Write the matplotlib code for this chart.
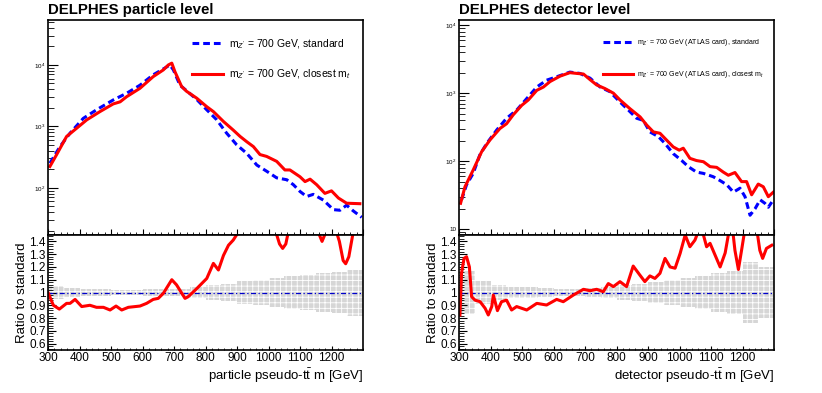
import numpy as np
import matplotlib
matplotlib.use('Agg')
import matplotlib.pyplot as plt
from matplotlib.ticker import MultipleLocator, LogLocator, NullFormatter, FuncFormatter

plt.rcParams['font.family'] = ['Liberation Sans', 'DejaVu Sans']
plt.rcParams['mathtext.fontset'] = 'custom'
plt.rcParams['mathtext.rm'] = 'Liberation Sans'
plt.rcParams['mathtext.it'] = 'Liberation Sans:italic'
plt.rcParams['hatch.linewidth'] = 0.6

# ---- particle level (left) ----
part_std_x = [306, 338, 370, 412, 454, 507, 550, 592, 634, 671, 687, 698, 719, 740, 772, 804, 835, 867, 899,
              931, 963, 994, 1026, 1058, 1079, 1100, 1121, 1142, 1174, 1206, 1227, 1248, 1269, 1296]
part_std_y = [251, 468, 776, 1350, 1860, 2690, 3470, 4680, 6920, 8910, 10000, 8320, 4680, 3800, 2750, 1860,
              1290, 776, 501, 363, 234, 186, 145, 135, 112, 87, 72, 78, 63, 44, 43, 52, 42, 33]
part_cl_x = [306, 327, 359, 391, 423, 465, 507, 529, 550, 592, 634, 666, 682, 693, 703, 724, 740, 772, 804,
             825, 857, 888, 910, 931, 952, 973, 994, 1026, 1052, 1068, 1100, 1116, 1132, 1153, 1179, 1200,
             1222, 1248, 1290]
part_cl_y = [222, 344, 684, 933, 1276, 1740, 2320, 2510, 3050, 4170, 6460, 8300, 10000, 10700, 7760, 4470,
             3720, 2880, 2090, 1740, 1200, 870, 684, 562, 468, 347, 324, 269, 195, 195, 151, 126, 138, 112,
             81, 89, 68, 56, 55]
part_ratio_x = [300, 317, 336, 359, 370, 386, 407, 433, 454, 476, 497, 516, 534, 555, 592, 613, 634, 650,
                666, 693, 708, 735, 745, 772, 804, 825, 841, 857, 873, 888, 901, 920, 950, 984, 1000, 1020,
                1035, 1045, 1055, 1065, 1090, 1130, 1160, 1170, 1180, 1200, 1225, 1237, 1245, 1255, 1268,
                1280, 1290]
part_ratio_y = [1.0, 0.90, 0.87, 0.915, 0.915, 0.946, 0.89, 0.90, 0.884, 0.884, 0.863, 0.894, 0.863, 0.884,
                0.894, 0.915, 0.946, 0.954, 0.993, 1.10, 1.06, 0.954, 0.967, 1.03, 1.11, 1.228, 1.176, 1.29,
                1.37, 1.41, 1.46, 1.55, 1.6, 1.46, 1.6, 1.5, 1.38, 1.345, 1.38, 1.5, 1.7, 1.6, 1.46, 1.40,
                1.46, 1.6, 1.4, 1.25, 1.225, 1.28, 1.46, 1.6, 1.7]
part_band = [0.05, 0.035, 0.028, 0.025, 0.022, 0.022, 0.025, 0.025, 0.03, 0.045, 0.055, 0.07, 0.09, 0.10,
             0.11, 0.13, 0.14, 0.15, 0.16, 0.18]

# ---- detector level (right) ----
det_std_x = [308, 324, 345, 366, 388, 420, 451, 483, 515, 547, 578, 610, 652, 684, 716, 748, 779, 811, 838,
             864, 885, 906, 933, 954, 980, 1007, 1028, 1054, 1076, 1107, 1128, 1150, 1171, 1192, 1208, 1224,
             1240, 1256, 1271, 1282, 1293]
det_std_y = [27, 45, 66, 123, 182, 288, 427, 562, 832, 1230, 1550, 1740, 2040, 1950, 1660, 1230, 1050, 741,
             562, 427, 398, 269, 229, 182, 129, 102, 83, 69, 66, 59, 52, 45, 35, 40, 30, 16, 20, 27, 24, 21, 25]
det_cl_x = [305, 319, 345, 372, 398, 430, 451, 472, 499, 520, 547, 568, 589, 621, 652, 674, 695, 716, 737,
            763, 790, 811, 843, 875, 896, 917, 938, 959, 980, 999, 1012, 1033, 1054, 1076, 1097, 1118, 1139,
            1155, 1176, 1197, 1213, 1229, 1250, 1266, 1282, 1298]
det_cl_y = [24, 42, 74, 138, 204, 302, 355, 479, 661, 794, 1100, 1230, 1480, 1780, 2000, 1950, 1910, 1580,
            1320, 1170, 1000, 794, 589, 447, 339, 269, 257, 204, 162, 145, 155, 110, 102, 98, 83, 81, 69, 62,
            68, 50, 50, 32, 46, 42, 30, 35]
det_ratio_x = [303, 308, 316, 324, 333, 340, 351, 367, 383, 393, 404, 409, 422, 435, 451, 467, 483, 515, 547,
               578, 610, 631, 663, 695, 716, 737, 758, 774, 790, 811, 832, 853, 874, 890, 906, 922, 938, 954,
               970, 986, 1002, 1018, 1033, 1049, 1060, 1076, 1086, 1097, 1129, 1145, 1155, 1166, 1176, 1187,
               1197, 1208, 1225, 1245, 1255, 1264, 1276, 1293]
det_ratio_y = [0.824, 1.15, 1.267, 1.28, 1.20, 0.967, 0.94, 0.928, 0.876, 0.824, 0.89, 0.98, 0.858, 0.928,
               0.94, 0.863, 0.89, 0.863, 0.915, 0.902, 0.946, 0.928, 0.98, 1.025, 1.014, 1.025, 1.006, 1.07,
               1.046, 1.085, 1.046, 1.207, 1.137, 1.085, 1.13, 1.11, 1.15, 1.267, 1.20, 1.19, 1.306, 1.45,
               1.358, 1.41, 1.48, 1.45, 1.358, 1.385, 1.20, 1.31, 1.45, 1.55, 1.33, 1.18, 1.33, 1.5, 1.7, 1.5,
               1.33, 1.267, 1.345, 1.37]
det_band = [0.17, 0.09, 0.06, 0.045, 0.04, 0.035, 0.03, 0.03, 0.035, 0.045, 0.055, 0.07, 0.08, 0.10, 0.11,
            0.13, 0.15, 0.17, 0.24, 0.20]

band_edges = np.arange(300, 1301, 50)

W, H = 822, 393
fig = plt.figure(figsize=(W / 100, H / 100), dpi=100)


def frac(x0, y0, x1, y1):
    return [x0 / W, 1 - y1 / H, (x1 - x0) / W, (y1 - y0) / H]


def root_log(v, pos):
    e = int(round(np.log10(v)))
    if e == 1:
        return '10'
    return r'10$^{%d}$' % e


def draw(x0, title, std, cl, ratio, band, labels, ylim, xlabel, leg_size, leg_hl, leg_sp):
    ax = fig.add_axes(frac(x0, 20, x0 + 315, 235))
    rx = fig.add_axes(frac(x0, 235, x0 + 315, 350))

    ax.plot(std[0], std[1], color='#0000ff', lw=2.2, ls=(0, (2.2, 1.3)), label=labels[0])
    ax.plot(cl[0], cl[1], color='#ff0000', lw=2.2, label=labels[1])
    ax.set_yscale('log')
    ax.set_ylim(*ylim)
    ax.set_xlim(300, 1300)
    ax.yaxis.set_major_locator(LogLocator(base=10, numticks=10))
    ax.yaxis.set_major_formatter(FuncFormatter(root_log))
    ax.yaxis.set_minor_locator(LogLocator(base=10, subs=np.arange(2, 10), numticks=20))
    ax.yaxis.set_minor_formatter(NullFormatter())
    ax.xaxis.set_major_locator(MultipleLocator(100))
    ax.xaxis.set_minor_locator(MultipleLocator(20))
    ax.tick_params(axis='y', which='major', direction='in', length=7, width=0.8, labelsize=4.5, pad=2)
    ax.tick_params(axis='y', which='minor', direction='in', length=4, width=0.6)
    ax.tick_params(axis='x', which='major', direction='in', length=4, width=0.8, labelbottom=False)
    ax.tick_params(axis='x', which='minor', direction='in', length=2, width=0.6)
    ax.legend(loc='upper left', bbox_to_anchor=(0.457, 0.92), frameon=False, fontsize=leg_size,
              handlelength=leg_hl, handletextpad=0.6, labelspacing=leg_sp, borderpad=0,
              borderaxespad=0)
    fig.text(x0 / W, 1 - 10 / H, title, fontsize=10.8, fontweight='bold', va='center', ha='left')

    # ratio panel
    rx.fill_between(band_edges, np.r_[1 - np.array(band), 1 - band[-1]],
                    np.r_[1 + np.array(band), 1 + band[-1]], step='post',
                    facecolor='#d6d6d6', edgecolor='white', hatch='+++', lw=0)
    rx.axhline(1.0, color='#0000cc', lw=0.9, ls=(0, (4, 2, 1, 2)))
    rx.plot(ratio[0], ratio[1], color='#ff0000', lw=2.2)
    rx.set_xlim(300, 1300)
    rx.set_ylim(0.55, 1.45)
    rx.yaxis.set_minor_locator(MultipleLocator(0.02))
    rx.xaxis.set_minor_locator(MultipleLocator(20))
    rx.set_yticks(np.round(np.arange(0.6, 1.41, 0.1), 1))
    rx.set_yticklabels(['0.6', '0.7', '0.8', '0.9', '1', '1.1', '1.2', '1.3', '1.4'])
    rx.set_xticks(np.arange(300, 1201, 100))
    rx.tick_params(axis='both', which='major', direction='in', labelsize=8.5, pad=1.5)
    rx.tick_params(axis='y', which='major', length=6, width=0.8)
    rx.tick_params(axis='y', which='minor', direction='in', length=3.5, width=0.6)
    rx.tick_params(axis='x', which='major', length=3, width=0.8)
    rx.tick_params(axis='x', which='minor', direction='in', length=1.5, width=0.6)
    rx.set_ylabel('Ratio to standard', fontsize=9.5, labelpad=1)
    rx.set_xlabel(xlabel, fontsize=9.5, loc='right', labelpad=2)
    for a in (ax, rx):
        for s in a.spines.values():
            s.set_linewidth(1.2)


draw(48, 'DELPHES particle level', (part_std_x, part_std_y), (part_cl_x, part_cl_y),
     (part_ratio_x, part_ratio_y), part_band,
     [r"m$_{Z'}$ = 700 GeV, standard", r"m$_{Z'}$ = 700 GeV, closest m$_{t}$"],
     (17, 54000), r"particle pseudo-t$\bar{\rm t}$ m [GeV]", 7.5, 3.0, 1.6)
draw(459, 'DELPHES detector level', (det_std_x, det_std_y), (det_cl_x, det_cl_y),
     (det_ratio_x, det_ratio_y), det_band,
     [r"m$_{Z'}$ = 700 GeV (ATLAS card), standard", r"m$_{Z'}$ = 700 GeV (ATLAS card), closest m$_{t}$"],
     (8.2, 11900), r"detector pseudo-t$\bar{\rm t}$ m [GeV]", 5.0, 4.3, 3.0)

fig.savefig('out.png', dpi=100)
